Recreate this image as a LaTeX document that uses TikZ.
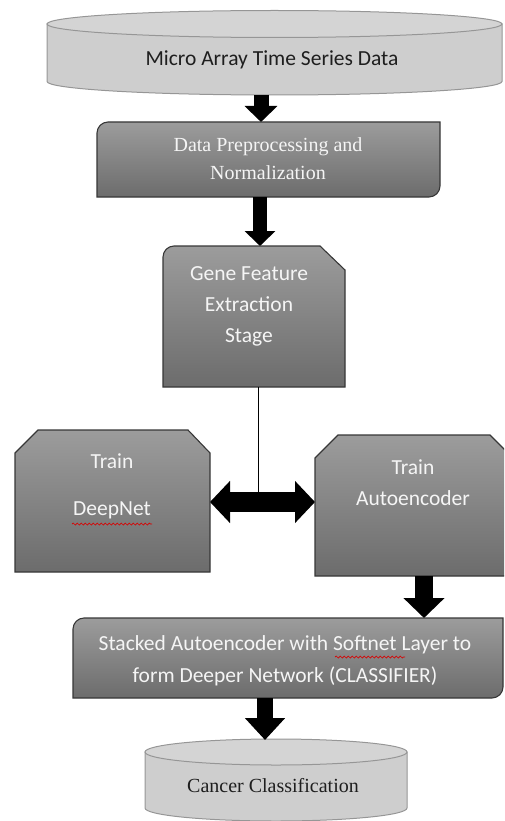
\documentclass[tikz,border=0pt]{standalone}
\usepackage{fontspec}
\setmainfont{Liberation Serif}
\newfontfamily\calibri{Carlito}
\usetikzlibrary{arrows.meta,calc,decorations.pathmorphing}

\definecolor{boxtop}{RGB}{156,156,156}
\definecolor{boxbot}{RGB}{108,108,108}
\definecolor{cylfill}{RGB}{206,206,206}
\definecolor{cyltop}{RGB}{212,212,212}
\definecolor{edge}{RGB}{55,55,55}
\definecolor{cyledge}{RGB}{150,150,150}
\definecolor{lighttext}{RGB}{245,245,245}
\definecolor{darktext}{RGB}{30,30,30}

\tikzset{
  frame/.style={draw=none, inner sep=0pt, outer sep=0pt},
  boxpaint/.style={draw=edge, line width=1.1pt, top color=boxtop, bottom color=boxbot},
  cylpaint/.style={draw=cyledge, line width=1pt, fill=cylfill},
  lbl/.style={align=center, inner sep=0pt, text=lighttext},
  sanslbl/.style={lbl, font=\calibri\fontsize{21.5}{31}\selectfont},
  seriflbl/.style={lbl, font=\fontsize{20}{28}\selectfont},
  fat/.style={line width=#1, draw=black},
  spell/.style={draw=red!85!black, line width=0.7pt,
    decorate, decoration={snake, segment length=4pt, amplitude=1pt}}
}

\begin{document}
\begin{tikzpicture}[x=1pt, y=-1pt]
  \useasboundingbox (0,0) rectangle (504,821);
  \clip (0,0) rectangle (504,821);

  % outline frames of the blocks
  \node[frame, minimum width=455pt, minimum height=85pt]  (src)   at (274.5,52.5) {};
  \node[frame, minimum width=343pt, minimum height=75pt]  (prep)  at (268.5,159.5) {};
  \node[frame, minimum width=182pt, minimum height=141pt] (gene)  at (254,316.5) {};
  \node[frame, minimum width=195pt, minimum height=142pt] (deep)  at (112.5,501) {};
  \node[frame, minimum width=197pt, minimum height=141pt] (auto)  at (413.5,505.5) {};
  \node[frame, minimum width=430pt, minimum height=80pt]  (stack) at (288,658) {};
  \node[frame, minimum width=262pt, minimum height=84pt]  (out)   at (276,780) {};

  % input database
  \path[cylpaint] (47,24) -- (47,81.5)
     arc[start angle=180, end angle=0, x radius=227.5, y radius=13.5]
     -- (502,24) -- cycle;
  \draw[cyledge, line width=1pt, fill=cyltop] (274.5,24) ellipse [x radius=227.5, y radius=13.5];

  % preprocessing block: rounded top-left and bottom-right corners
  \path[boxpaint] ($(prep.north west)+(0,11)$)
     .. controls ($(prep.north west)+(0,5)$) and ($(prep.north west)+(5,0)$) .. ($(prep.north west)+(11,0)$)
     -- (prep.north east) -- ($(prep.south east)+(0,-11)$)
     .. controls ($(prep.south east)+(0,-5)$) and ($(prep.south east)+(-5,0)$) .. ($(prep.south east)+(-11,0)$)
     -- (prep.south west) -- cycle;

  % feature extraction block: rounded top-left, snipped top-right
  \path[boxpaint] ($(gene.north west)+(0,11)$)
     .. controls ($(gene.north west)+(0,5)$) and ($(gene.north west)+(5,0)$) .. ($(gene.north west)+(11,0)$)
     -- ($(gene.north east)+(-25,0)$) -- ($(gene.north east)+(0,24)$)
     -- (gene.south east) -- (gene.south west) -- cycle;

  % training blocks: both top corners snipped
  \path[boxpaint] ($(deep.north west)+(0,23)$) -- ($(deep.north west)+(23,0)$)
     -- ($(deep.north east)+(-22,0)$) -- ($(deep.north east)+(0,23)$)
     -- (deep.south east) -- (deep.south west) -- cycle;
  \path[boxpaint] ($(auto.north west)+(0,23)$) -- ($(auto.north west)+(23,0)$)
     -- ($(auto.north east)+(-22,0)$) -- ($(auto.north east)+(0,22)$)
     -- (auto.south east) -- (auto.south west) -- cycle;

  % classifier block: rounded top-left and bottom-right corners
  \path[boxpaint] ($(stack.north west)+(0,11)$)
     .. controls ($(stack.north west)+(0,5)$) and ($(stack.north west)+(5,0)$) .. ($(stack.north west)+(11,0)$)
     -- (stack.north east) -- ($(stack.south east)+(0,-11)$)
     .. controls ($(stack.south east)+(0,-5)$) and ($(stack.south east)+(-5,0)$) .. ($(stack.south east)+(-11,0)$)
     -- (stack.south west) -- cycle;

  % output database
  \path[cylpaint] (145,752) -- (145,808)
     arc[start angle=180, end angle=0, x radius=131, y radius=13]
     -- (407,752) -- cycle;
  \draw[cyledge, line width=1pt, fill=cyltop] (276,752) ellipse [x radius=131, y radius=13];

  % labels
  \node[sanslbl, text=darktext] (srcT) at (272,60) {Micro Array Time Series Data};
  \node[seriflbl] (prepT) at (268,159) {Data Preprocessing and\\Normalization};
  \node[sanslbl] (geneT) at (249,306) {Gene Feature\\Extraction\\Stage};
  \node[sanslbl, font=\calibri\fontsize{21.5}{47}\selectfont] (deepT) at (112,486) {Train\\DeepNet};
  \node[sanslbl] (autoT) at (413,483) {Train\\Autoencoder};
  \node[sanslbl, font=\calibri\fontsize{21.5}{32}\selectfont] (stackT) at (285,661) {Stacked Autoencoder with Softnet Layer to\\form Deeper Network (CLASSIFIER)};
  \node[seriflbl, text=darktext] (outT) at (273,786) {Cancer Classification};

  % spelling marks under DeepNet and Softnet
  \draw[spell] (72,524) -- (152,524);
  \draw[spell] (335,657) -- (405,657);

  % connectors
  \coordinate (a1) at (261,0);
  \coordinate (a2) at (260,0);
  \coordinate (a3) at (424,0);
  \coordinate (a4) at (265,0);
  \coordinate (hub) at (258,502);

  \draw[fat=15pt, -{Triangle[width=32pt, length=16pt]}] (src.south -| a1) -- (prep.north -| a1);
  \draw[fat=14pt, -{Triangle[width=30pt, length=15pt]}] (prep.south -| a2) -- (gene.north -| a2);
  \draw[line width=1pt] (gene.south -| hub) -- (hub);
  \draw[fat=20pt, {Triangle[width=41pt, length=20pt]}-{Triangle[width=41pt, length=20pt]}] (deep.east |- hub) -- (auto.west |- hub);
  \draw[fat=18pt, -{Triangle[width=40pt, length=20pt]}] (auto.south -| a3) -- (stack.north -| a3);
  \draw[fat=16pt, -{Triangle[width=39pt, length=22pt]}] (stack.south -| a4) -- ($(out.north -| a4)+(0,2)$);
\end{tikzpicture}
\end{document}
